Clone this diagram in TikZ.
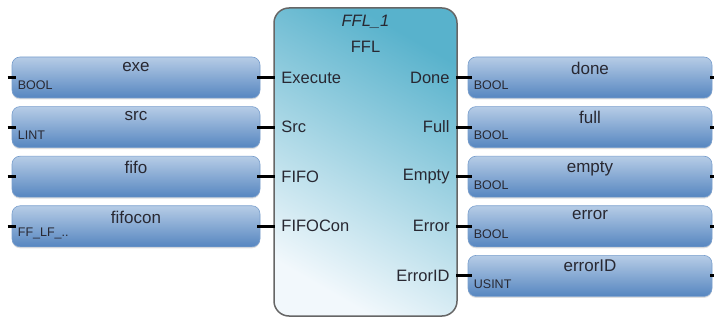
\documentclass[tikz,border=0pt]{standalone}
\usepackage{fontspec}
\setmainfont{Liberation Sans}
\usetikzlibrary{positioning,shadows}

\definecolor{varTop}{RGB}{182,204,230}
\definecolor{varBot}{RGB}{86,134,192}
\definecolor{blkTop}{RGB}{88,178,204}
\definecolor{blkBot}{RGB}{242,248,252}
\definecolor{txtGray}{RGB}{40,40,50}

\begin{document}
\begin{tikzpicture}[
    x=1pt, y=-1pt,
    node distance=8pt,
    varbox/.style={rectangle, rounded corners=8pt, draw=varBot!80!white, line width=0.6pt,
        top color=varTop, bottom color=varBot, minimum height=41pt, inner sep=0pt,
        drop shadow={shadow xshift=0pt, shadow yshift=-1.5pt, opacity=0.25}},
    lvar/.style={varbox, minimum width=248pt},
    rvar/.style={varbox, minimum width=244pt},
    vname/.style={font=\fontsize{17}{19}\selectfont, text=txtGray, inner sep=0pt},
    vtype/.style={font=\fontsize{12.5}{14}\selectfont, text=txtGray, inner sep=0pt},
    pinlbl/.style={font=\fontsize{16.5}{18}\selectfont, text=txtGray, inner sep=0pt},
    wire/.style={line width=3pt, black}
]
    \useasboundingbox (0,0) rectangle (714,320);

    % Function block
    \node[rectangle, rounded corners=15pt, draw=black!60, line width=1.5pt,
        top color=blkTop, bottom color=blkBot, shading angle=-30,
        minimum width=183pt, minimum height=308pt] (blk) at (365.5,162) {};
    \node[pinlbl, font=\itshape\fontsize{16.5}{18}\selectfont] (inst) at (365.5,22) {FFL\_1};
    \node[pinlbl] (fbname) at (365.5,47) {FFL};

    % Input variables
    \node[lvar] (exe) at (136,77.5) {};
    \node[lvar, below=of exe] (src) {};
    \node[lvar, below=of src] (fifo) {};
    \node[lvar, below=of fifo] (fifocon) {};

    % Output variables
    \node[rvar] (done) at (590,77.5) {};
    \node[rvar, below=of done] (full) {};
    \node[rvar, below=of full] (empty) {};
    \node[rvar, below=of empty] (error) {};
    \node[rvar, below=of error] (errid) {};

    % Variable names and types
    \foreach \v/\t in {exe/exe, src/src, fifo/fifo, fifocon/fifocon,
                       done/done, full/full, empty/empty, error/error, errid/errorID}
        \node[vname, anchor=north] (\v-name) at ([yshift=-5pt]\v.north) {\t};
    \foreach \v/\t in {exe/BOOL, src/LINT, fifocon/FF\_LF\_..,
                       done/BOOL, full/BOOL, empty/BOOL, error/BOOL, errid/USINT}
        \node[vtype, anchor=south west] (\v-type) at ([xshift=6pt,yshift=8pt]\v.south west) {\t};

    % Pin labels
    \node[pinlbl, anchor=west] (pExecute) at ([xshift=8pt]blk.west |- exe) {Execute};
    \node[pinlbl, anchor=west] (pSrc) at ([xshift=8pt]blk.west |- src) {Src};
    \node[pinlbl, anchor=west] (pFifo) at ([xshift=8pt]blk.west |- fifo) {FIFO};
    \node[pinlbl, anchor=west] (pFifoCon) at ([xshift=8pt]blk.west |- fifocon) {FIFOCon};
    \node[pinlbl, anchor=east] (pDone) at ([xshift=-8pt]blk.east |- done) {Done};
    \node[pinlbl, anchor=east] (pFull) at ([xshift=-8pt]blk.east |- full) {Full};
    \node[pinlbl, anchor=east] (pEmpty) at ([xshift=-8pt]blk.east |- empty) {Empty};
    \node[pinlbl, anchor=east] (pError) at ([xshift=-8pt]blk.east |- error) {Error};
    \node[pinlbl, anchor=east] (pErrId) at ([xshift=-8pt]blk.east |- errid) {ErrorID};

    % Wires
    \foreach \v in {exe, src, fifo, fifocon} {
        \draw[wire] ([xshift=-3pt]\v.east) -- ([xshift=2pt]\v.east -| blk.west);
        \draw[wire] ([xshift=-4pt]\v.west) -- ([xshift=4pt]\v.west);
    }
    \foreach \v in {done, full, empty, error, errid} {
        \draw[wire] ([xshift=-2pt]\v.west -| blk.east) -- ([xshift=4pt]\v.west);
        \draw[wire] ([xshift=-2pt]\v.east) -- ([xshift=4pt]\v.east);
    }
\end{tikzpicture}
\end{document}
